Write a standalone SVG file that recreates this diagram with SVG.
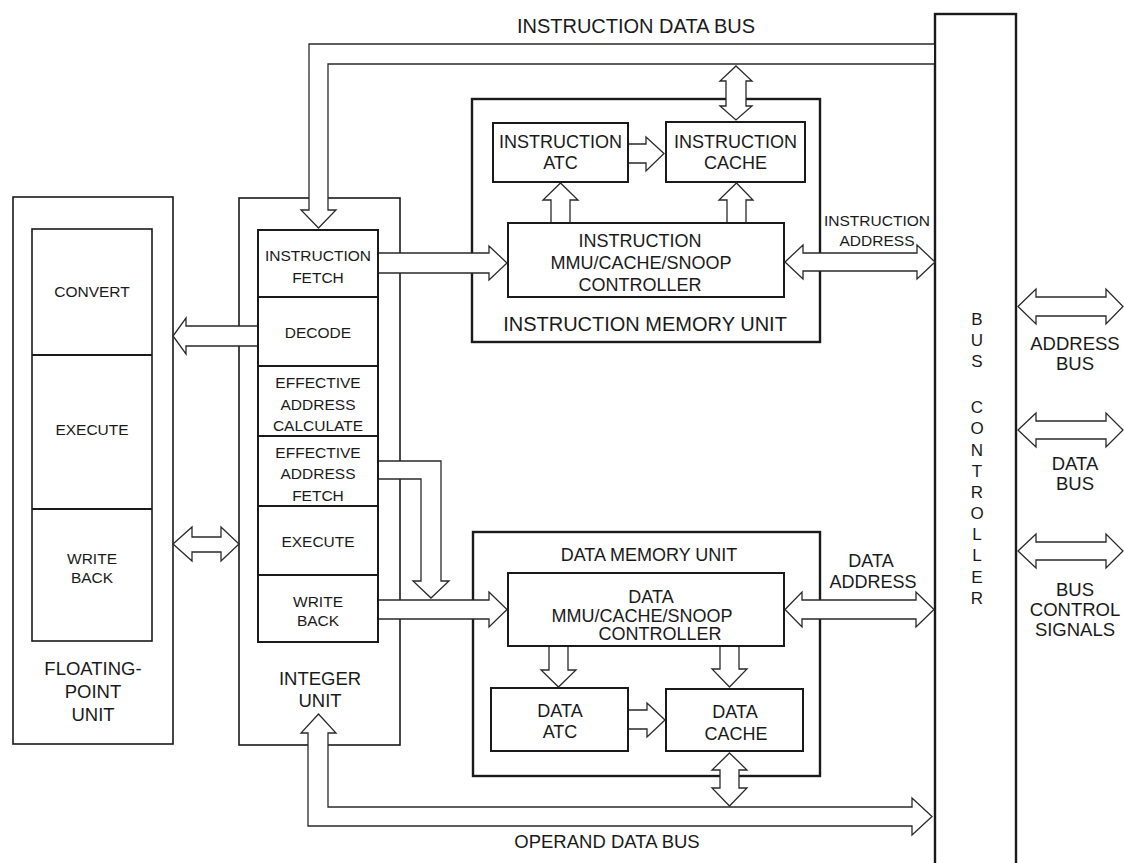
<svg xmlns="http://www.w3.org/2000/svg" width="1124" height="863" viewBox="0 0 1124 863">
<style>
.bg{fill:#fff}
.box{fill:none;stroke:#1a1a1a;stroke-width:2}
.thick{fill:none;stroke:#1a1a1a;stroke-width:2.4}
.unit{fill:none;stroke:#1a1a1a;stroke-width:1.6}
.div{stroke:#1a1a1a;stroke-width:1.8}
.arrow{fill:#fff;stroke:#2a2a2a;stroke-width:1.3;stroke-linejoin:miter}
text{font-family:"Liberation Sans",Arial,Helvetica,sans-serif;fill:#1a1a1a;text-anchor:middle}
.s15{font-size:15.5px}
.s18{font-size:18px}
.s185{font-size:18.5px}
.s20{font-size:20px}
.s17{font-size:17px}
</style>
<rect class="bg" x="0" y="0" width="1124" height="863"/>

<g id="fpu">
<rect class="unit" x="13" y="197" width="160" height="547"/>
<rect class="unit" x="32" y="229" width="120" height="412"/>
<line class="div" x1="32" y1="355" x2="152" y2="355"/>
<line class="div" x1="32" y1="509" x2="152" y2="509"/>
<text class="s15" x="92" y="297">CONVERT</text>
<text class="s15" x="92" y="435">EXECUTE</text>
<text class="s15" x="92" y="564">WRITE</text>
<text class="s15" x="92" y="583">BACK</text>
<text class="s185" x="93" y="675">FLOATING-</text>
<text class="s185" x="93" y="698">POINT</text>
<text class="s185" x="93" y="721">UNIT</text>
</g>

<g id="integer-unit">
<rect class="unit" x="239" y="198" width="161" height="547"/>
<rect class="box" x="258" y="230" width="120" height="412"/>
<line class="div" x1="258" y1="297" x2="378" y2="297"/>
<line class="div" x1="258" y1="366" x2="378" y2="366"/>
<line class="div" x1="258" y1="436" x2="378" y2="436"/>
<line class="div" x1="258" y1="506" x2="378" y2="506"/>
<line class="div" x1="258" y1="575" x2="378" y2="575"/>
<text class="s15" x="318" y="261">INSTRUCTION</text>
<text class="s15" x="318" y="283">FETCH</text>
<text class="s15" x="318" y="338">DECODE</text>
<text class="s15" x="318" y="388">EFFECTIVE</text>
<text class="s15" x="318" y="410">ADDRESS</text>
<text class="s15" x="318" y="431">CALCULATE</text>
<text class="s15" x="318" y="458">EFFECTIVE</text>
<text class="s15" x="318" y="479">ADDRESS</text>
<text class="s15" x="318" y="501">FETCH</text>
<text class="s15" x="318" y="547">EXECUTE</text>
<text class="s15" x="318" y="607">WRITE</text>
<text class="s15" x="318" y="626">BACK</text>
<text class="s185" x="320" y="685">INTEGER</text>
<text class="s185" x="320" y="707">UNIT</text>
</g>

<g id="instruction-memory-unit">
<rect class="thick" x="472" y="99" width="348" height="243"/>
<text class="s20" x="645" y="331">INSTRUCTION MEMORY UNIT</text>
</g>
<g id="instruction-atc">
<rect class="box" x="493" y="123" width="135" height="59"/>
<text class="s18" x="560.5" y="148">INSTRUCTION</text>
<text class="s18" x="560.5" y="169">ATC</text>
</g>
<g id="instruction-cache">
<rect class="box" x="666" y="122" width="139" height="60"/>
<text class="s18" x="735.5" y="148">INSTRUCTION</text>
<text class="s18" x="735.5" y="169">CACHE</text>
</g>
<g id="instruction-controller">
<rect class="box" x="508" y="223" width="276" height="74"/>
<text class="s18" x="640" y="247">INSTRUCTION</text>
<text class="s18" x="641" y="269">MMU/CACHE/SNOOP</text>
<text class="s18" x="640" y="291">CONTROLLER</text>
</g>

<g id="data-memory-unit">
<rect class="thick" x="473" y="532" width="347" height="244"/>
<text class="s18" x="649" y="561">DATA MEMORY UNIT</text>
</g>
<g id="data-controller">
<rect class="box" x="508" y="573" width="276" height="73"/>
<text class="s18" x="651" y="603">DATA</text>
<text class="s18" x="642" y="622">MMU/CACHE/SNOOP</text>
<text class="s18" x="660" y="640">CONTROLLER</text>
</g>
<g id="data-atc">
<rect class="box" x="491" y="688" width="137" height="63"/>
<text class="s18" x="560" y="717">DATA</text>
<text class="s18" x="560" y="738">ATC</text>
</g>
<g id="data-cache">
<rect class="box" x="666" y="689" width="137" height="62"/>
<text class="s18" x="735" y="718">DATA</text>
<text class="s18" x="736" y="740">CACHE</text>
</g>

<g id="bus-controller">
<rect class="thick" x="935" y="14" width="81" height="870"/>
<text class="s17" x="977" y="325">B</text>
<text class="s17" x="977" y="346">U</text>
<text class="s17" x="977" y="367">S</text>
<text class="s17" x="977" y="413">C</text>
<text class="s17" x="977" y="434">O</text>
<text class="s17" x="977" y="456">N</text>
<text class="s17" x="977" y="477">T</text>
<text class="s17" x="977" y="498">R</text>
<text class="s17" x="977" y="519">O</text>
<text class="s17" x="977" y="540">L</text>
<text class="s17" x="977" y="561">L</text>
<text class="s17" x="977" y="583">E</text>
<text class="s17" x="977" y="604">R</text>
</g>

<g id="connectors">
<path class="arrow" d="M934,44 H309 V210 H301 L318.5,228 L336,210 H328 V64 H934"/>
<polygon class="arrow" points="736,66 752,81 746,81 746,106 752,106 736,120 720,106 726,106 726,81 720,81"/>
<path class="arrow" d="M629,144 H646 V137 L664,153.5 L646,171 V163 H629"/>
<path class="arrow" d="M551,222 V200 H543 L560.5,183 L578,200 H570 V222"/>
<path class="arrow" d="M727,222 V200 H719 L736.5,183 L753,200 H746 V222"/>
<path class="arrow" d="M379,253 H489 V246 L507,263 L489,280 V273 H379"/>
<polygon class="arrow" points="785,262 803,245 803,253 917,253 917,245 935,262 917,279 917,271 803,271 803,279"/>
<path class="arrow" d="M257,326 H186 V318 L173,336 L186,354 V346 H257"/>
<polygon class="arrow" points="173,544 192,527 192,537 221,537 221,527 239,544 221,561 221,552 192,552 192,561"/>
<path class="arrow" d="M379,461 H441 V581 H449 L431,598 L413,581 H421 V479 H379"/>
<path class="arrow" d="M379,600 H489 V592 L507,609.5 L489,627 V619 H379"/>
<polygon class="arrow" points="785,609.5 802,592 802,600 916,600 916,592 934,609.5 916,627 916,619 802,619 802,627"/>
<path class="arrow" d="M549,647 V670 H541 L558.5,687 L576,670 H568 V647"/>
<path class="arrow" d="M720,647 V669 H712 L729.5,687 L747,669 H739 V647"/>
<path class="arrow" d="M629,710 H647 V703 L665,720 L647,737 V729 H629"/>
<polygon class="arrow" points="729.5,753 747,770 739,770 739,788 747,788 729.5,806 712,788 720,788 720,770 712,770"/>
<polygon class="arrow" points="318.5,714 336,733 328,733 328,807 912,807 912,798 932,816.5 912,835 912,826 308,826 308,733 301,733"/>
<polygon class="arrow" points="1018,306.5 1036,289 1036,297 1106,297 1106,289 1123,306.5 1106,324 1106,316 1036,316 1036,324"/>
<polygon class="arrow" points="1018,430 1036,413 1036,421 1106,421 1106,413 1123,430 1106,447 1106,439 1036,439 1036,447"/>
<polygon class="arrow" points="1018,551 1036,534 1036,542 1106,542 1106,534 1123,551 1106,568 1106,560 1036,560 1036,568"/>
</g>

<g id="labels">
<text class="s20" x="636" y="33">INSTRUCTION DATA BUS</text>
<text class="s15" x="877" y="226">INSTRUCTION</text>
<text class="s15" x="877" y="246">ADDRESS</text>
<text class="s18" x="871" y="567">DATA</text>
<text class="s18" x="873" y="588">ADDRESS</text>
<text class="s185" x="607" y="848">OPERAND DATA BUS</text>
<text class="s185" x="1075" y="350">ADDRESS</text>
<text class="s185" x="1075" y="370">BUS</text>
<text class="s185" x="1075" y="470">DATA</text>
<text class="s185" x="1075" y="490">BUS</text>
<text class="s185" x="1075" y="596">BUS</text>
<text class="s185" x="1075" y="616">CONTROL</text>
<text class="s185" x="1075" y="636">SIGNALS</text>
</g>
</svg>
